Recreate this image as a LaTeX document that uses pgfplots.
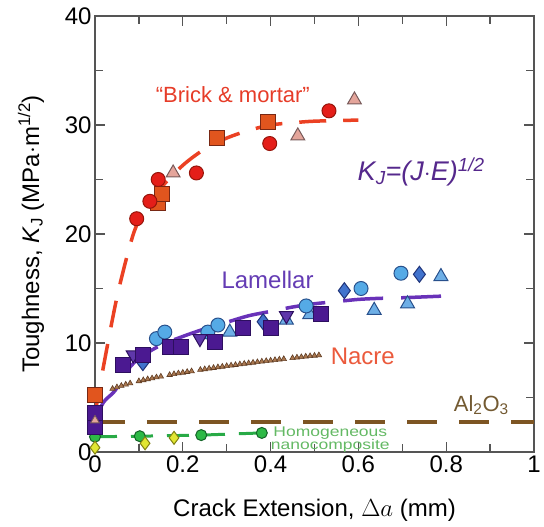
\documentclass[border=0pt]{standalone}
\usepackage{fontspec}
\setmainfont{Liberation Sans}
\usepackage{graphicx}
\usepackage{pgfplots}
\pgfplotsset{compat=1.18}

\definecolor{axisgray}{RGB}{85,85,85}
\definecolor{redc}{RGB}{228,30,25}
\definecolor{redce}{RGB}{150,20,10}
\definecolor{sqc}{RGB}{225,85,30}
\definecolor{sqce}{RGB}{120,40,20}
\definecolor{tric}{RGB}{228,165,155}
\definecolor{trice}{RGB}{120,90,90}
\definecolor{brickline}{RGB}{235,65,35}
\definecolor{purpsq}{RGB}{75,25,145}
\definecolor{purpsqe}{RGB}{45,15,95}
\definecolor{purptri}{RGB}{95,55,170}
\definecolor{lblue}{RGB}{85,170,230}
\definecolor{lbluee}{RGB}{40,80,140}
\definecolor{bdiam}{RGB}{65,115,205}
\definecolor{bdiame}{RGB}{30,50,120}
\definecolor{ltri}{RGB}{110,175,230}
\definecolor{lamline}{RGB}{105,50,185}
\definecolor{nacrec}{RGB}{170,120,80}
\definecolor{nacree}{RGB}{95,60,35}
\definecolor{alc}{RGB}{125,85,35}
\definecolor{greenline}{RGB}{40,170,70}
\definecolor{greenfill}{RGB}{45,185,70}
\definecolor{greenedge}{RGB}{20,100,40}
\definecolor{yellowfill}{RGB}{225,230,50}
\definecolor{yellowedge}{RGB}{130,130,20}
\definecolor{bricktext}{RGB}{230,60,40}
\definecolor{lamtext}{RGB}{100,60,180}
\definecolor{nacretext}{RGB}{235,90,60}
\definecolor{altext}{RGB}{115,90,50}
\definecolor{kjtext}{RGB}{85,40,140}
\definecolor{homtext}{RGB}{100,185,100}

\newcommand{\bigf}{\fontsize{24bp}{28bp}\selectfont}

\begin{document}
\begin{tikzpicture}
\begin{axis}[
  scale only axis, width=439bp, height=436bp,
  xmin=0, xmax=1, ymin=0, ymax=40,
  xtick={0,0.2,0.4,0.6,0.8,1},
  xticklabels={0,0.2,0.4,0.6,0.8,1},
  minor xtick={0.1,0.3,0.5,0.7,0.9},
  ytick={0,10,20,30,40},
  minor ytick={5,15,25,35},
  tick align=inside,
  major tick length=10bp, minor tick length=8bp,
  axis line style={draw=axisgray, line width=1.6bp},
  every tick/.style={draw=axisgray, line width=1.4bp},
  tick label style={font=\bigf},
  label style={font=\bigf},
  /pgf/number format/assume math mode=true,
  xlabel={Crack Extension, $\Delta a$ (mm)},
  ylabel={Toughness, \textit{K}\textsubscript{J} (MPa$\cdot$m\textsuperscript{1/2})},
  xlabel style={at={(axis description cs:0.5,-0.149)}, anchor=base},
  ylabel style={at={(axis description cs:-0.146,0.5)}, anchor=center},
  clip=false,
]
\coordinate (ll) at (rel axis cs:0,0);
\coordinate (ur) at (rel axis cs:1,1);

% Al2O3
\addplot[alc, line width=3.5bp, dash pattern=on 30bp off 22bp] coordinates {(0,2.75) (1,2.75)};

% Homogeneous nanocomposite (green)
\addplot[greenline, line width=3bp, dash pattern=on 22bp off 14bp, mark=*, mark size=5.5bp,
  mark options={solid, fill=greenfill, draw=greenedge, line width=1bp}]
  coordinates {(0,1.4) (0.102,1.45) (0.242,1.55) (0.38,1.75)};
\addplot[only marks, mark=diamond*, mark size=6.5bp,
  mark options={fill=yellowfill, draw=yellowedge, line width=1bp}]
  coordinates {(0,0.4) (0.114,0.8) (0.18,1.3)};

% Nacre
\addplot[only marks, mark=triangle*, mark size=3.2bp,
  mark options={fill=nacrec, draw=nacree, line width=0.6bp}]
  coordinates {(0.04,5.80) (0.05,5.94) (0.06,6.07) (0.07,6.19) (0.08,6.30)
  (0.10,6.50) (0.11,6.59) (0.12,6.68) (0.13,6.76) (0.14,6.85) (0.15,6.92)
  (0.17,7.07) (0.18,7.15) (0.19,7.22) (0.20,7.28) (0.21,7.35) (0.22,7.41)
  (0.24,7.54) (0.25,7.60) (0.26,7.66) (0.27,7.72) (0.28,7.78) (0.29,7.83)
  (0.30,7.89) (0.31,7.94) (0.32,7.99) (0.33,8.05) (0.34,8.10) (0.35,8.15)
  (0.36,8.20) (0.37,8.25) (0.38,8.30) (0.39,8.35) (0.40,8.39) (0.41,8.44)
  (0.42,8.49) (0.43,8.53) (0.45,8.62) (0.46,8.67) (0.47,8.71) (0.48,8.76)
  (0.49,8.80) (0.50,8.84) (0.51,8.88)};

% Lamellar markers
\addplot[only marks, mark=triangle*, mark size=8bp,
  mark options={fill=ltri, draw=lbluee, line width=1bp}]
  coordinates {(0.307,11.0) (0.436,12.1) (0.489,12.6) (0.636,13.0) (0.712,13.6) (0.788,16.1)};
\addplot[only marks, mark=*, mark size=7bp,
  mark options={fill=lblue, draw=lbluee, line width=1bp}]
  coordinates {(0.140,10.4) (0.159,11.0) (0.257,11.0) (0.280,11.65) (0.481,13.4) (0.606,15.0) (0.697,16.4)};
\addplot[only marks, mark=diamond*, mark size=8bp,
  mark options={fill=bdiam, draw=bdiame, line width=1bp}]
  coordinates {(0.109,8.2) (0.383,11.95) (0.568,14.8) (0.739,16.3)};
\addplot[only marks, mark=triangle*, mark size=8bp,
  mark options={fill=purptri, draw=purpsqe, line width=1bp, rotate=180}]
  coordinates {(0.087,8.9) (0.239,10.4) (0.436,12.5)};
\addplot[only marks, mark=square*, mark size=7.5bp,
  mark options={fill=purpsq, draw=purpsqe, line width=1bp}]
  coordinates {(0,2.3) (0,3.6) (0.064,8.0) (0.110,8.9) (0.170,9.65) (0.197,9.65) (0.273,10.1) (0.337,11.35) (0.401,11.35) (0.515,12.7)};
\addplot[only marks, mark=triangle*, mark size=5bp,
  mark options={fill=tric, draw=trice, line width=0.8bp}]
  coordinates {(0,2.9)};

% Lamellar curve
\addplot[lamline, line width=3.5bp, smooth, dash pattern=on 40bp off 18bp]
  coordinates {(0,3.0) (0.02,4.6) (0.045,5.6) (0.07,7.3) (0.1,8.6) (0.15,9.8)
  (0.2,10.6) (0.25,11.3) (0.3,11.9) (0.35,12.5) (0.4,12.9) (0.45,13.3)
  (0.5,13.6) (0.55,13.8) (0.6,14.0) (0.65,14.1) (0.7,14.15) (0.79,14.3)};

% Brick and mortar curve
\addplot[brickline, line width=3.5bp, smooth, dash pattern=on 27bp off 17bp]
  coordinates {(0,3.5) (0.02,8) (0.05,14.2) (0.08,19) (0.1,21.2) (0.15,24.2)
  (0.2,26.3) (0.25,27.8) (0.3,28.8) (0.35,29.5) (0.4,30) (0.45,30.2)
  (0.5,30.35) (0.6,30.45)};

% Brick and mortar markers
\addplot[only marks, mark=triangle*, mark size=8bp,
  mark options={fill=tric, draw=trice, line width=1bp}]
  coordinates {(0.178,25.6) (0.462,29.0) (0.591,32.3)};
\addplot[only marks, mark=square*, mark size=7.5bp,
  mark options={fill=sqc, draw=sqce, line width=1bp}]
  coordinates {(0,5.2) (0.143,22.8) (0.152,23.7) (0.277,28.8) (0.394,30.3)};
\addplot[only marks, mark=*, mark size=7bp,
  mark options={fill=redc, draw=redce, line width=1bp}]
  coordinates {(0.095,21.4) (0.125,23.0) (0.144,25.0) (0.231,25.6) (0.398,28.3) (0.533,31.3)};

% Labels
\node[text=bricktext, font=\fontsize{22bp}{26bp}\selectfont] at (axis cs:0.314,32.75) {``Brick \& mortar''};
\node[text=kjtext, font=\fontsize{27bp}{32bp}\selectfont\itshape] at (axis cs:0.743,25.7) {K\textsubscript{J}=(J$\cdot$E)\textsuperscript{1/2}};
\node[text=lamtext, font=\bigf] at (axis cs:0.393,15.8) {Lamellar};
\node[text=nacretext, font=\bigf] at (axis cs:0.61,8.75) {Nacre};
\node[text=altext, font=\fontsize{22bp}{26bp}\selectfont] at (axis cs:0.88,4.3) {Al\textsubscript{2}O\textsubscript{3}};
\node[text=homtext, font=\fontsize{14bp}{14bp}\selectfont] at (axis cs:0.536,1.77) {\scalebox{1.25}[1]{Homogeneous}};
\node[text=homtext, font=\fontsize{14bp}{14bp}\selectfont] at (axis cs:0.536,0.55) {\scalebox{1.25}[1]{nanocomposite}};
\end{axis}
\pgfresetboundingbox
\useasboundingbox ([xshift=-95bp,yshift=-75bp]ll) rectangle ([xshift=10bp,yshift=16bp]ur);
\end{tikzpicture}
\end{document}
